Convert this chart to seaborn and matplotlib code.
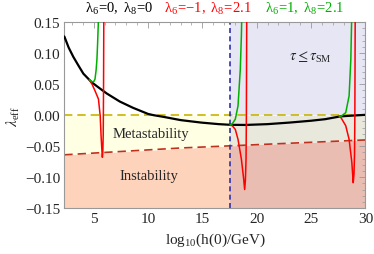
import numpy as np
import pandas as pd
import seaborn as sns
import matplotlib.pyplot as plt
from matplotlib.ticker import MultipleLocator, FuncFormatter

# valores
x_min, x_max = 2.3, 30
y_min, y_max = -0.15, 0.15
tau_bound = 17.5

black_x = [2.3, 2.7, 3.13, 3.6, 4.05, 4.82, 5.5, 6.2, 7.4, 8.6, 10.0, 10.5, 11.5,
           13.0, 14.9, 16.5, 17.6, 19.0, 21.0, 23.0, 25.0, 26.3, 27.7, 29.0, 30.0]
black_y = [0.127, 0.109, 0.094, 0.080, 0.067, 0.053, 0.044, 0.035, 0.022, 0.012, 0.002, 0.0, -0.003,
           -0.008, -0.012, -0.0145, -0.0156, -0.0158, -0.0145, -0.012, -0.009, -0.0065, -0.002, -0.0005, 0.0005]

# lambda6=-1, lambda8=2.1 (tres ramos ate os polos)
red_seg = [0] * 13 + [1] * 12 + [2] * 11
red_x = [4.6, 4.85, 5.13, 5.44, 5.6, 5.68, 5.75, 5.8, 5.84, 5.88, 5.91, 5.94, 5.96,
         17.55, 17.75, 18.03, 18.28, 18.59, 18.8, 18.89, 18.96, 19.02, 19.05, 19.08, 19.1,
         27.6, 27.75, 28.19, 28.5, 28.75, 28.88, 28.95, 29.0, 29.03, 29.06, 29.08]
red_y = [0.057, 0.050, 0.039, 0.026, -0.001, -0.033, -0.055, -0.068, -0.06, -0.03, 0.05, 0.2, 0.4,
         -0.0157, -0.017, -0.023, -0.039, -0.071, -0.103, -0.120, -0.105, -0.07, 0.0, 0.15, 0.4,
         -0.0025, -0.004, -0.017, -0.039, -0.076, -0.109, -0.095, -0.063, 0.0, 0.15, 0.4]

# lambda6=1, lambda8=2.1
green_seg = [0] * 10 + [1] * 8 + [2] * 7
green_x = [4.6, 4.85, 5.0, 5.12, 5.22, 5.3, 5.36, 5.42, 5.47, 5.52,
           17.55, 17.75, 18.03, 18.28, 18.49, 18.59, 18.65, 18.72,
           27.6, 27.75, 28.19, 28.5, 28.66, 28.73, 28.8]
green_y = [0.057, 0.054, 0.054, 0.058, 0.072, 0.09, 0.115, 0.145, 0.2, 0.4,
           -0.0157, -0.014, -0.0065, 0.015, 0.074, 0.128, 0.18, 0.4,
           -0.0025, -0.002, 0.004, 0.031, 0.09, 0.15, 0.4]

# limite de instabilidade (tracejado vermelho)
inst_x = [2.3, 13.0, 30.0]
inst_y = [-0.064, -0.053, -0.040]

black = pd.DataFrame({'x': black_x, 'y': black_y})
red = pd.DataFrame({'x': red_x, 'y': red_y, 'seg': red_seg})
green = pd.DataFrame({'x': green_x, 'y': green_y, 'seg': green_seg})

sns.set_style('white')
plt.rcParams['font.family'] = ['Liberation Serif', 'DejaVu Serif']
plt.rcParams['mathtext.fontset'] = 'stix'

fig = plt.figure(figsize=(3.74, 2.55), dpi=100)
ax = fig.add_axes([0.172, 0.180, 0.805, 0.729])

# regioes
xs = np.array(inst_x)
ys = np.array(inst_y)
xl = np.array([x_min, tau_bound])
xr = np.array([tau_bound, x_max])
yl = np.interp(xl, xs, ys)
yr = np.interp(xr, xs, ys)
ax.fill_between(xl, y_min, yl, color='#fdd3bc', lw=0, zorder=0)
ax.fill_between(xl, yl, 0, color='#ffffe4', lw=0, zorder=0)
ax.fill_between(xr, y_min, yr, color='#e9bdb2', lw=0, zorder=0)
ax.fill_between(xr, yr, 0, color='#e8e8dc', lw=0, zorder=0)
ax.fill_between(xr, 0, y_max, color='#e6e6f5', lw=0, zorder=0)

ax.axhline(0, color='#c8b400', lw=1.2, ls=(0, (5, 3)), zorder=1)
sns.lineplot(x=inst_x, y=inst_y, ax=ax, color='#c0301e', lw=1.2, ls=(0, (5, 3)), zorder=1)
ax.axvline(tau_bound, color='#3030b0', lw=1.2, ls=(0, (3, 2)), zorder=1)

sns.lineplot(data=black, x='x', y='y', ax=ax, color='black', lw=1.6, sort=False, zorder=3)
sns.lineplot(data=red, x='x', y='y', units='seg', estimator=None, ax=ax, color='#ff0000',
             lw=1.1, sort=False, zorder=4)
sns.lineplot(data=green, x='x', y='y', units='seg', estimator=None, ax=ax, color='#00b000',
             lw=1.1, sort=False, zorder=4)

ax.set_xlim(x_min, x_max)
ax.set_ylim(y_min, y_max)
ax.xaxis.set_major_locator(MultipleLocator(5))
ax.xaxis.set_minor_locator(MultipleLocator(1))
ax.yaxis.set_major_locator(MultipleLocator(0.05))
ax.yaxis.set_minor_locator(MultipleLocator(0.01))
ax.yaxis.set_major_formatter(FuncFormatter(lambda v, p: f"{round(v, 2) + 0:.2f}".replace('-', '\u2212')))
ax.tick_params(which='both', direction='in', top=True, right=True, color='#999999', labelsize=11, pad=3)
ax.tick_params(which='major', length=4.5, width=0.6)
ax.tick_params(which='minor', length=2.5, width=0.5)
for s in ax.spines.values():
    s.set_color('#999999')
    s.set_linewidth(0.8)

ax.set_xlabel(r'$\mathregular{log_{10}(h(0)/GeV)}$', fontsize=11, labelpad=4)
ax.set_ylabel(r'$\lambda_{\mathregular{eff}}$', fontsize=11, labelpad=2)

ax.text(10.3, -0.029, 'Metastability', fontsize=10.5, ha='center', va='center')
ax.text(10.1, -0.098, 'Instability', fontsize=10.5, ha='center', va='center')
ax.text(24.9, 0.094, r'$\tau \leq \tau_{\mathregular{SM}}$', fontsize=10.5, ha='center', va='center')

fig.text(0.32, 0.965, r'$\mathregular{\lambda_6\!=\!0,\ \lambda_8\!=\!0}$', fontsize=10.5,
         ha='center', va='center', color='black')
fig.text(0.556, 0.965, r'$\mathregular{\lambda_6\!=\!{-}1,\ \lambda_8\!=\!2.1}$', fontsize=10.5,
         ha='center', va='center', color='#ff0000')
fig.text(0.815, 0.965, r'$\mathregular{\lambda_6\!=\!1,\ \lambda_8\!=\!2.1}$', fontsize=10.5,
         ha='center', va='center', color='#00b000')

fig.savefig('out.png', dpi=100)
